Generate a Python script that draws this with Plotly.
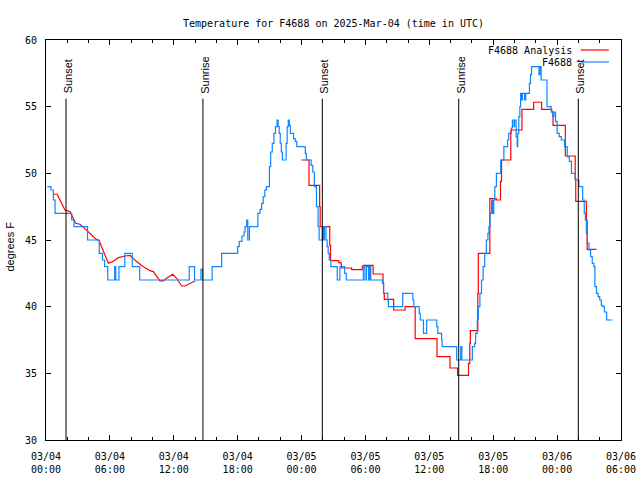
import pandas as pd
import plotly.graph_objects as go

# ---------------- data (hours after 2025-03-04 00:00 UTC) ----------------
obs_hours = [0.12, 0.47, 0.69, 0.85, 2.41, 2.63, 3.9, 5.0, 5.3, 5.5, 5.8, 6.45, 6.55, 6.85,
             7.4, 8.1, 8.8, 13.45, 13.95, 14.55, 14.7, 15.6, 16.5, 18.0, 18.15, 18.4, 18.6,
             18.7, 18.85, 18.95, 19.1, 19.9, 20.1, 20.25, 20.4, 20.55, 20.7, 20.98, 21.1,
             21.25, 21.4, 21.55, 21.7, 21.8, 21.9, 22.0, 22.1, 22.2, 22.55, 22.65, 22.75,
             22.85, 22.95, 23.25, 23.4, 23.55, 24.35, 24.45, 24.9, 25.05, 25.2, 25.4, 25.55,
             25.65, 25.95, 26.05, 26.15, 26.3, 26.4, 26.5, 26.6, 26.75, 27.35, 27.6, 28.05,
             28.2, 29.8, 29.95, 30.1, 30.3, 30.4, 30.5, 31.6, 31.7, 32.1, 32.15, 33.5, 34.45,
             34.55, 35.05, 35.15, 35.45, 35.75, 36.7, 36.8, 37.15, 37.2, 38.57, 38.95, 39.05,
             40.04, 40.25, 40.35, 40.5, 40.6, 40.75, 40.9, 41.05, 41.2, 41.35, 41.5, 41.6,
             41.7, 41.85, 41.95, 42.05, 42.15, 42.3, 42.7, 43.0, 43.35, 43.45, 43.7, 43.8,
             43.95, 44.0, 44.15, 44.25, 44.3, 44.4, 44.5, 44.57, 44.65, 44.75, 44.95, 45.05,
             45.4, 45.5, 45.6, 46.3, 46.38, 46.5, 47.05, 47.45, 47.6, 47.7, 47.85, 48.0, 48.2,
             48.4, 48.7, 48.95, 49.15, 49.35, 49.7, 50.05, 50.4, 50.55, 50.65, 50.75, 50.85,
             51.0, 51.15, 51.3, 51.45, 51.55, 51.7, 51.85, 52.0, 52.15, 52.3, 52.45, 52.65,
             53.2]
obs_temps = [49.0, 48.75, 48.0, 47.0, 46.5, 46.0, 45.0, 44.0, 43.5, 43.0, 42.0, 43.0, 42.0, 43.0,
             44.0, 43.0, 42.0, 43.0, 42.0, 42.8, 42.0, 43.0, 44.0, 44.5, 44.9, 45.3, 45.6,
             46.0, 46.5, 45.0, 46.0, 47.0, 47.3, 47.75, 48.25, 48.75, 49.0, 50.5, 51.6,
             52.25, 53.0, 53.5, 54.0, 53.5, 53.0, 52.25, 51.6, 51.0, 52.25, 53.5, 54.0,
             53.6, 53.0, 52.6, 52.4, 52.0, 51.5, 51.0, 50.6, 50.1, 49.0, 47.5, 46.0,
             45.0, 46.0, 45.0, 46.0, 45.0, 44.5, 44.0, 43.5, 43.0, 42.0, 43.0, 42.5,
             42.0, 43.0, 42.0, 43.0, 42.0, 43.0, 42.0, 41.75, 41.0, 40.5, 40.0, 41.0, 40.5,
             40.0, 39.5, 39.0, 38.0, 39.0, 38.5, 38.0, 37.5, 37.0, 36.0, 37.0, 36.0,
             37.0, 37.25, 38.0, 39.0, 40.0, 41.0, 42.0, 43.0, 44.0, 45.0, 45.5, 46.0,
             47.0, 48.0, 47.0, 48.0, 49.0, 50.0, 51.0, 52.0, 52.5, 53.0, 53.4, 54.0,
             53.5, 54.0, 52.75, 52.0, 53.0, 54.25, 55.0, 56.0, 55.5, 56.0, 55.5, 56.0,
             56.75, 57.4, 58.0, 57.4, 58.0, 57.0, 55.0, 54.6, 54.25, 54.6, 53.9, 53.0, 52.75,
             52.5, 52.0, 51.25, 50.9, 50.0, 49.5, 49.0, 48.0, 47.0, 46.5, 45.5, 44.75,
             44.25, 43.75, 43.25, 43.0, 41.5, 41.0, 40.75, 40.5, 40.1, 40.0, 39.6, 39.0,
             39.0]

ana_smooth_hours = [0.65, 1.05, 1.78, 2.25, 2.79, 3.19, 3.88, 4.6, 5.0, 5.85, 6.26, 6.8, 7.42,
                    7.89, 8.5, 9.14, 9.77, 10.08, 10.7, 11.0, 11.33, 11.9, 12.27, 12.74, 13.05,
                    14.0]
ana_smooth_temps = [48.43, 48.43, 47.25, 47.13, 46.25, 46.18, 45.68, 45.13, 44.93, 43.25, 43.38,
                    43.68, 43.8, 43.85, 43.38, 43.0, 42.7, 42.63, 41.93, 41.93, 42.13, 42.43,
                    42.13, 41.55, 41.55, 41.93]

ana_step_hours = [24.0, 24.7, 25.7, 25.75, 26.65, 26.72, 27.5, 27.7, 27.75, 28.7, 29.7, 29.8,
                  30.72, 31.65, 31.7, 31.77, 32.65, 33.72, 34.67, 36.72, 37.94, 38.65, 39.68,
                  39.8, 39.85, 40.55, 40.6, 41.68, 42.28, 42.68, 42.78, 43.65, 44.7, 45.8,
                  46.55, 47.5, 47.62, 48.77, 49.7, 49.75, 50.75, 50.82, 51.7]
ana_step_temps = [51.0, 49.1, 47.5, 46.0, 44.6, 43.45, 43.3, 43.2, 42.9, 42.78, 43.0, 43.1,
                  42.45, 41.75, 41.0, 40.55, 39.75, 40.0, 37.6, 36.25, 35.4, 34.85, 35.75,
                  37.25, 38.2, 41.0, 44.0, 48.1, 48.0, 49.4, 51.0, 53.25, 54.8, 55.33,
                  54.8, 54.6, 53.6, 51.3, 49.6, 47.9, 46.5, 44.3, 44.3]

sun_event_hours = [1.88, 14.74, 25.95, 38.76, 49.99]
sun_event_labels = ["Sunset", "Sunrise", "Sunset", "Sunrise", "Sunset"]

series_names = ["F4688 Analysis", "F4688"]
series_colors = ["#ff0000", "#0d86ff"]

# ---------------- figure ----------------
base = pd.Timestamp("2025-03-04 00:00")
def to_time(hours):
    return [base + pd.Timedelta(hours=h) for h in hours]

MONO = "DejaVu Sans Mono"
SANS = "Liberation Sans"
LW = 1.2

fig = go.Figure()

# sunrise / sunset lines
for h in sun_event_hours:
    t = base + pd.Timedelta(hours=h)
    fig.add_shape(type="line", xref="x", yref="y", x0=t, x1=t, y0=30, y1=55.6,
                  line=dict(color="black", width=1))
for h, lab in zip(sun_event_hours, sun_event_labels):
    fig.add_annotation(x=base + pd.Timedelta(hours=h), y=55.85, xref="x", yref="y",
                       text=lab, textangle=-90, showarrow=False, xanchor="center",
                       yanchor="bottom", xshift=2, font=dict(family=SANS, size=11, color="black"))

fig.add_trace(go.Scatter(x=to_time(ana_smooth_hours), y=ana_smooth_temps, mode="lines",
                         line=dict(color=series_colors[0], width=LW, shape="linear"),
                         name=series_names[0], showlegend=False))
fig.add_trace(go.Scatter(x=to_time(ana_step_hours), y=ana_step_temps, mode="lines",
                         line=dict(color=series_colors[0], width=LW, shape="hv"),
                         name=series_names[0], showlegend=False))
fig.add_trace(go.Scatter(x=to_time(obs_hours), y=obs_temps, mode="lines",
                         line=dict(color=series_colors[1], width=LW, shape="hv"),
                         name=series_names[1], showlegend=False))

# gnuplot-style key (text then sample on the right)
key_y = [0.975, 0.945]
for name, col, ky in zip(series_names, series_colors, key_y):
    fig.add_annotation(x=0.918, y=ky, xref="paper", yref="paper", text=name,
                       showarrow=False, xanchor="right", yanchor="middle",
                       font=dict(family=MONO, size=10, color="black"))
    fig.add_shape(type="line", xref="paper", yref="paper", x0=0.930, x1=0.979,
                  y0=ky, y1=ky, line=dict(color=col, width=LW))

# y-axis label placed like gnuplot's
fig.add_annotation(x=-0.063, y=0.483, xref="paper", yref="paper", text="degrees F",
                   textangle=-90, showarrow=False, xanchor="center", yanchor="middle",
                   font=dict(family=SANS, size=11, color="black"))

fig.update_layout(
    width=640, height=480,
    margin=dict(l=46, r=19, t=40, b=40, autoexpand=False),
    paper_bgcolor="white", plot_bgcolor="white",
    title=dict(text="Temperature for F4688 on 2025-Mar-04 (time in UTC)",
               x=0.5, xref="paper", y=0.958, yref="container", xanchor="center",
               font=dict(family=MONO, size=10, color="black")),
    showlegend=False,
    font=dict(family=MONO, size=10, color="black"),
)
fig.update_xaxes(
    type="date", automargin=False,
    range=[base, base + pd.Timedelta(hours=54)],
    dtick=6 * 3600 * 1000, tick0=base,
    tickformat="%m/%d<br>%H:%M",
    ticks="inside", ticklen=5, tickcolor="black", tickwidth=1,
    ticklabelstandoff=7,
    minor=dict(dtick=2 * 3600 * 1000, ticks="inside", ticklen=3, tickcolor="black", tickwidth=1),
    showline=True, linecolor="black", linewidth=1, mirror="allticks",
    showgrid=False, zeroline=False,
    tickfont=dict(family=MONO, size=10, color="black"),
)
fig.update_yaxes(
    range=[30, 60], dtick=5, tick0=30, automargin=False,
    ticks="inside", ticklen=5, tickcolor="black", tickwidth=1,
    ticklabelstandoff=6,
    showline=True, linecolor="black", linewidth=1, mirror="allticks",
    showgrid=False, zeroline=False,
    tickfont=dict(family=MONO, size=10, color="black"),
)

fig.write_html("out.html", config={"displayModeBar": False},
               post_script="document.body.style.margin='0';")
